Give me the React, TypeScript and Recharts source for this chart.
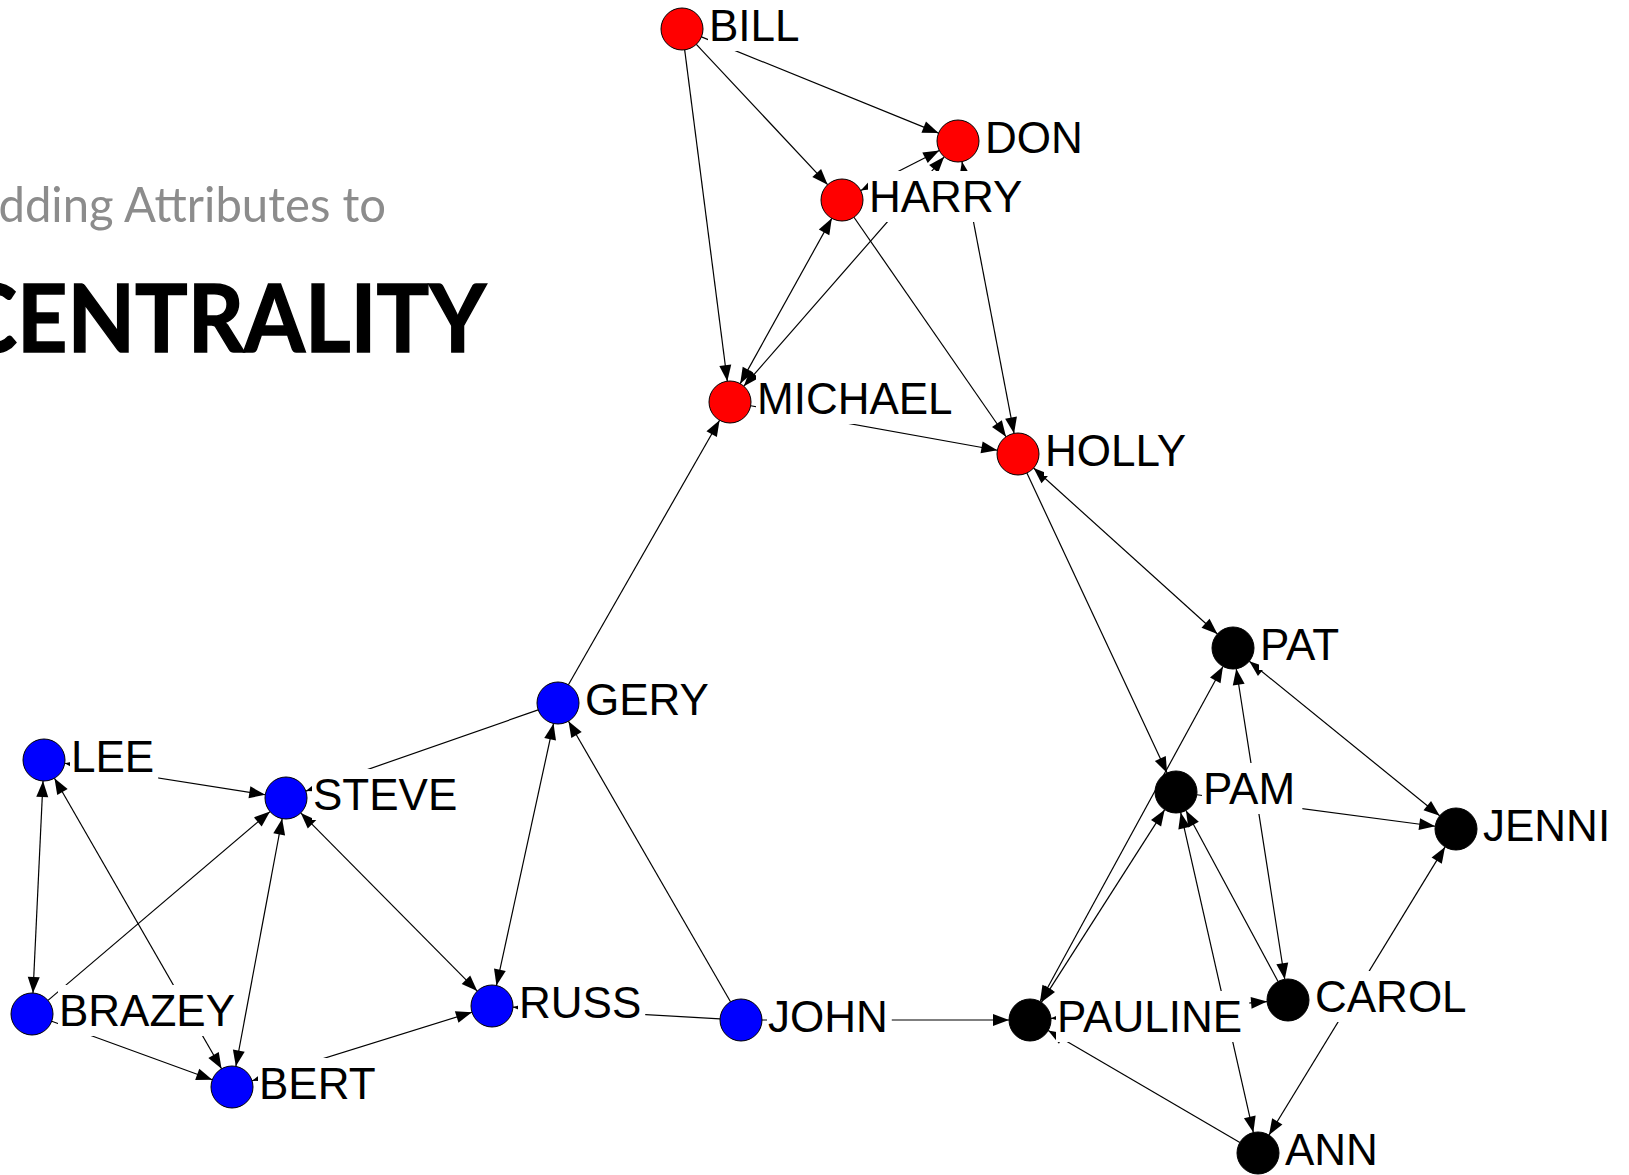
import { ScatterChart, Scatter, XAxis, YAxis } from "recharts"

const W = 1629
const H = 1175

// node layout
const names = [
  "BILL", "DON", "HARRY", "MICHAEL", "HOLLY",
  "GERY", "LEE", "STEVE", "BRAZEY", "BERT", "RUSS", "JOHN",
  "PAT", "PAM", "JENNI", "PAULINE", "CAROL", "ANN",
]
const xValues = [682, 958, 842, 730, 1018, 558, 44, 286, 32, 232, 492, 741, 1233, 1176, 1456, 1030, 1288, 1258]
const yValues = [29, 141, 200, 402, 454, 703, 760, 798, 1014, 1087, 1006, 1020, 648, 792, 829, 1020, 1000, 1153]
const groups = [
  "red", "red", "red", "red", "red",
  "blue", "blue", "blue", "blue", "blue", "blue", "blue",
  "black", "black", "black", "black", "black", "black",
]

// [from, to, arrow at both ends]
const edges: [string, string, boolean][] = [
  ["BILL", "DON", false],
  ["BILL", "HARRY", false],
  ["BILL", "MICHAEL", false],
  ["HARRY", "DON", true],
  ["MICHAEL", "DON", true],
  ["HOLLY", "DON", true],
  ["HARRY", "MICHAEL", true],
  ["HARRY", "HOLLY", false],
  ["MICHAEL", "HOLLY", false],
  ["GERY", "MICHAEL", false],
  ["LEE", "STEVE", true],
  ["LEE", "BRAZEY", true],
  ["LEE", "BERT", true],
  ["BRAZEY", "STEVE", false],
  ["BRAZEY", "BERT", false],
  ["STEVE", "BERT", true],
  ["STEVE", "RUSS", true],
  ["GERY", "STEVE", false],
  ["GERY", "RUSS", true],
  ["JOHN", "GERY", false],
  ["BERT", "RUSS", true],
  ["JOHN", "RUSS", false],
  ["JOHN", "PAULINE", false],
  ["HOLLY", "PAT", true],
  ["HOLLY", "PAM", false],
  ["PAULINE", "PAT", true],
  ["PAULINE", "PAM", true],
  ["PAT", "CAROL", true],
  ["PAT", "JENNI", true],
  ["PAM", "JENNI", false],
  ["PAM", "ANN", true],
  ["CAROL", "PAM", false],
  ["PAULINE", "CAROL", true],
  ["JENNI", "ANN", true],
  ["ANN", "PAULINE", false],
]

const COLORS: Record<string, string> = { red: "#ff0000", blue: "#0000ff", black: "#000000" }
const R = 21
const ARROW_LEN = 16
const ARROW_HALF = 6
const FONT = 44

const nodes = names.map((name, i) => ({ name, x: xValues[i], y: yValues[i], group: groups[i] }))
const byName: Record<string, any> = Object.fromEntries(nodes.map((n) => [n.name, n]))

// Arial advance widths (em) for capitals
const CAP_W: Record<string, number> = {
  A: 0.667, B: 0.667, C: 0.722, D: 0.722, E: 0.667, F: 0.611, G: 0.778, H: 0.722, I: 0.278,
  J: 0.5, K: 0.667, L: 0.556, M: 0.833, N: 0.722, O: 0.778, P: 0.667, Q: 0.778, R: 0.722,
  S: 0.667, T: 0.611, U: 0.722, V: 0.667, W: 0.944, X: 0.667, Y: 0.667, Z: 0.611,
}
const textWidth = (s: string) => s.split("").reduce((w, c) => w + (CAP_W[c] ?? 0.6), 0) * FONT

function head(tx: number, ty: number, ux: number, uy: number) {
  const bx = tx - ux * ARROW_LEN
  const by = ty - uy * ARROW_LEN
  return `${tx},${ty} ${bx - uy * ARROW_HALF},${by + ux * ARROW_HALF} ${bx + uy * ARROW_HALF},${by - ux * ARROW_HALF}`
}

function edgeRenderer(both: boolean) {
  return (props: any) => {
    const [a, b] = props.points
    const dx = b.x - a.x
    const dy = b.y - a.y
    const len = Math.hypot(dx, dy)
    const ux = dx / len
    const uy = dy / len
    const sx = a.x + ux * R
    const sy = a.y + uy * R
    const ex = b.x - ux * R
    const ey = b.y - uy * R
    return (
      <g>
        <line x1={sx} y1={sy} x2={ex} y2={ey} stroke="#000" strokeWidth={1.2} />
        <polygon points={head(ex, ey, ux, uy)} fill="#000" />
        {both && <polygon points={head(sx, sy, -ux, -uy)} fill="#000" />}
      </g>
    )
  }
}

const EmptyShape = () => <g />

function NodeShape(props: any) {
  const { cx, cy, payload } = props
  const w = textWidth(payload.name)
  return (
    <g>
      <circle cx={cx} cy={cy} r={R} fill={COLORS[payload.group]} stroke="#000" strokeWidth={1} />
      <rect x={cx + 26} y={cy - 29} width={w + 5} height={51} fill="#fff" />
      <text
        x={cx + 27}
        y={cy + 12}
        fontFamily="'Liberation Sans', Arial, sans-serif"
        fontSize={FONT}
        fill="#000"
      >
        {payload.name}
      </text>
    </g>
  )
}

export default function App() {
  return (
    <div style={{ position: "fixed", left: 0, top: 0, width: W, height: H, background: "#fff", overflow: "hidden" }}>
      <svg style={{ position: "absolute", left: 0, top: 0 }} width={W} height={H}>
        <text x={-33} y={222} fontFamily="Lato, 'Open Sans', sans-serif" fontSize={49} fill="#8c8c8c" textLength={419} lengthAdjust="spacingAndGlyphs">
          Adding Attributes to
        </text>
        <text x={-41} y={352} fontFamily="Lato, 'Open Sans', sans-serif" fontWeight={700} fontSize={93} fill="#000" stroke="#000" strokeWidth={1.5} textLength={527} lengthAdjust="spacingAndGlyphs">
          CENTRALITY
        </text>
      </svg>
      <div style={{ position: "absolute", left: 0, top: 0 }}>
        <ScatterChart width={W} height={H} margin={{ top: 0, right: 0, bottom: 0, left: 0 }}>
          <XAxis type="number" dataKey="x" domain={[0, W]} hide />
          <YAxis type="number" dataKey="y" domain={[0, H]} reversed hide />
          {edges.map(([from, to, both]) => (
            <Scatter
              key={`${from}-${to}`}
              data={[byName[from], byName[to]]}
              line={edgeRenderer(both)}
              lineType="joint"
              shape={EmptyShape}
              isAnimationActive={false}
            />
          ))}
          <Scatter data={nodes} shape={NodeShape} isAnimationActive={false} />
        </ScatterChart>
      </div>
    </div>
  )
}
